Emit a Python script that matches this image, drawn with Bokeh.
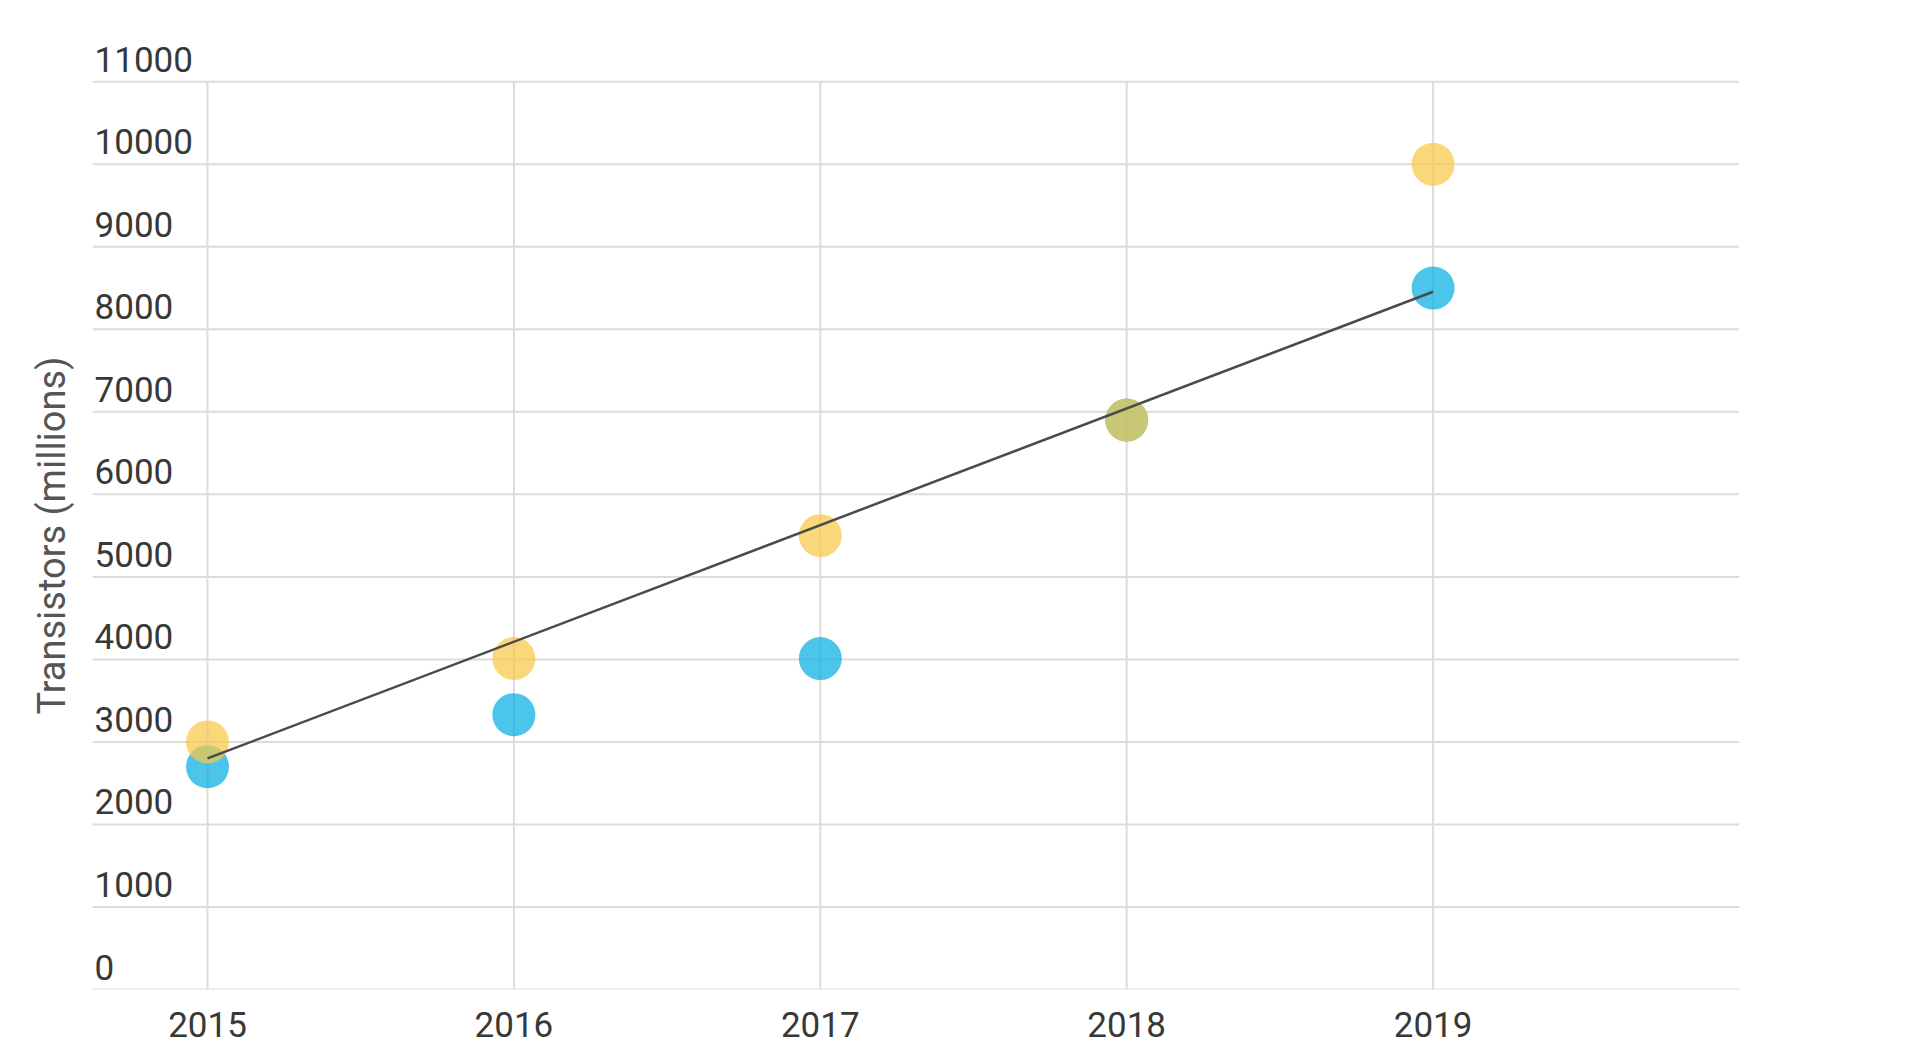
import math
from bokeh.plotting import figure
from bokeh.models import ColumnDataSource, FixedTicker, Range1d, LabelSet
from bokeh.core.properties import value
from bokeh.embed import file_html
from bokeh.resources import INLINE

# ---- data ----
years = [2015, 2016, 2017, 2018, 2019]
blue_vals = [2700, 3330, 4010, 6900, 8500]
orange_vals = [3000, 4010, 5500, 6900, 10000]
trend_years = [2015, 2019]
trend_vals = [2800, 8455]
y_ticks = [0, 1000, 2000, 3000, 4000, 5000, 6000, 7000, 8000, 9000, 10000, 11000]
y_tick_labels = [str(t) for t in y_ticks]
x_ticks = [2015, 2016, 2017, 2018, 2019]
y_title = "Transistors (millions)"

FONT = "Roboto"
TXT = "#383838"
GRID = "#dcdcdc"

# layout constants (in data units)
x_lo, x_end = 2014.3244, 2020.0     # frame spans the whole left side
x_grid_start = 2014.625              # where horizontal grid lines begin
x_title = 2014.494                   # centre of the rotated y title
y_start, y_end = 0, 11500

W, H = 1904, 1054
p = figure(width=W, height=H, output_backend="svg", toolbar_location=None,
           x_range=Range1d(x_lo, x_end), y_range=Range1d(y_start, y_end),
           min_border_left=0, min_border_right=W - 1739, min_border_top=40,
           min_border_bottom=H - 989)
p.outline_line_color = None
p.background_fill_color = "white"
p.border_fill_color = "white"
p.xgrid.visible = False
p.ygrid.visible = False
p.yaxis.visible = False

# horizontal grid lines
p.segment(x0=[x_grid_start] * len(y_ticks), y0=y_ticks,
          x1=[x_end] * len(y_ticks), y1=y_ticks,
          line_color=GRID, line_width=2, level="underlay")
# vertical grid lines, from 0 up to the top tick only
p.segment(x0=x_ticks, y0=[y_ticks[0]] * len(x_ticks), x1=x_ticks,
          y1=[y_ticks[-1]] * len(x_ticks), line_color=GRID, line_width=2,
          level="underlay")

# x axis
p.xaxis.ticker = FixedTicker(ticks=x_ticks)
p.xaxis.axis_line_color = None
p.xaxis.major_tick_line_color = None
p.xaxis.minor_tick_line_color = None
p.xaxis.major_tick_out = 0
p.xaxis.major_tick_in = 0
p.xaxis.major_label_standoff = 22
p.xaxis.major_label_text_font = FONT
p.xaxis.major_label_text_font_size = "35px"
p.xaxis.major_label_text_color = TXT

# y tick labels drawn above their grid lines
lab_src = ColumnDataSource(dict(x=[x_grid_start] * len(y_ticks), y=y_ticks, t=y_tick_labels))
labels = LabelSet(x="x", y="y", text="t", source=lab_src, x_offset=2, y_offset=10,
                  text_font=value(FONT), text_font_size="35px", text_color=TXT,
                  text_align="left", text_baseline="alphabetic")
p.add_layout(labels)

# y axis title
p.text(x=[x_title], y=[(y_ticks[0] + y_ticks[-1]) / 2], text=[y_title],
       angle=math.pi / 2, text_font=value(FONT), text_font_size="38px",
       text_color="#555555", text_align="center", text_baseline="middle")

# points
p.scatter(years, blue_vals, marker="circle", size=43, fill_color="#00ace1",
          fill_alpha=0.7, line_color=None)
p.scatter(years, orange_vals, marker="circle", size=43, fill_color="#f8c848",
          fill_alpha=0.72, line_color=None)

# trend line
p.line(trend_years, trend_vals, line_color="#4a4a4a", line_width=2.5)

open("out.html", "w").write(file_html(p, INLINE))
